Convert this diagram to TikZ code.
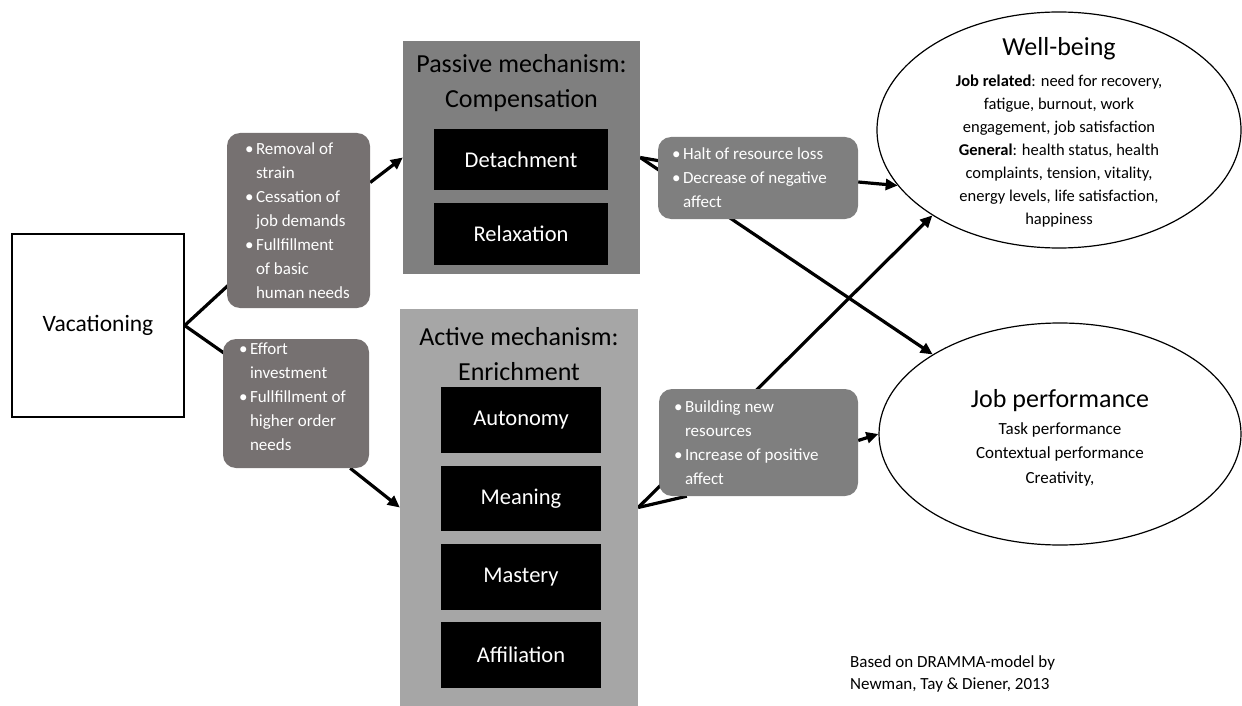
\documentclass[tikz,border=0pt]{standalone}
\usepackage{fontspec}
\setmainfont{Carlito}
\usetikzlibrary{arrows.meta,shapes.geometric,calc,backgrounds}
\definecolor{darkbox}{RGB}{118,113,113}
\definecolor{midbox}{RGB}{127,127,127}
\definecolor{lightbox}{RGB}{166,166,166}
\newcommand{\bu}{\makebox[11pt][l]{•}}
\newcommand{\ind}{\hspace*{11pt}}
\begin{document}
\begin{tikzpicture}[x=1pt,y=-1pt,
  conn/.style={line width=3.2pt, black},
  arr/.style={conn, -{Triangle[length=12pt,width=11pt]}},
  mechbox/.style={inner sep=0, draw=none},
  blk/.style={fill=black, text=white, font=\fontsize{22.5}{27}\selectfont, inner sep=0},
  bulbox/.style={rounded corners=13pt, inner sep=0},
  btxt/.style={text=white, align=left, font=\fontsize{17}{24}\selectfont, inner sep=0, anchor=west},
  ttl/.style={font=\fontsize{26}{35}\selectfont, align=center, inner sep=0},
  oval/.style={draw, ellipse, line width=1.2pt, inner sep=0},
]
\useasboundingbox (0,0) rectangle (1242,706);

% Vacationing
\node[draw, line width=1.3pt, minimum width=172, minimum height=183, inner sep=0,
      font=\fontsize{23.5}{28}\selectfont] (vac) at (98,325.5) {Vacationing};

% Passive mechanism
\node[mechbox, fill=midbox, minimum width=237, minimum height=233] (pas) at (521.5,157.5) {};
\node[ttl] (pasT) at (521.5,83) {Passive mechanism:\\Compensation};
\node[blk, minimum width=174, minimum height=61] (det) at (521,159.5) {Detachment};
\node[blk, minimum width=174, minimum height=62] (rel) at (521,234) {Relaxation};

% Active mechanism
\node[mechbox, fill=lightbox, minimum width=238, minimum height=397] (act) at (519,507.5) {};
\node[ttl] (actT) at (519,354.5) {Active mechanism:\\Enrichment};
\node[blk, minimum width=160, minimum height=66] (aut) at (521,420) {Autonomy};
\node[blk, minimum width=160, minimum height=65] (mea) at (521,498.5) {Meaning};
\node[blk, minimum width=160, minimum height=66] (mas) at (521,577) {Mastery};
\node[blk, minimum width=160, minimum height=66] (aff) at (521,655) {Affiliation};

% bullet boxes
\node[bulbox, fill=darkbox, minimum width=143, minimum height=175] (rem) at (298.5,220.5) {};
\node[btxt] (remT) at ($(rem.west)+(18,0)$) {\bu Removal of\\\ind strain\\\bu Cessation of\\\ind job demands\\\bu Fullfillment\\\ind of basic\\\ind human needs};

\node[bulbox, fill=darkbox, minimum width=146, minimum height=129] (eff) at (296,403.5) {};
\node[btxt] (effT) at ($(eff.west)+(16,-7)$) {\bu Effort\\\ind investment\\\bu Fullfillment of\\\ind higher order\\\ind needs};

\node[bulbox, fill=midbox, minimum width=200, minimum height=82] (halt) at (758,178) {};
\node[btxt] (haltT) at ($(halt.west)+(14,0)$) {\bu Halt of resource loss\\\bu Decrease of negative\\\ind affect};

\node[bulbox, fill=midbox, minimum width=199, minimum height=107] (bld) at (758.5,442.5) {};
\node[btxt] (bldT) at ($(bld.west)+(15,0)$) {\bu Building new\\\ind resources\\\bu Increase of positive\\\ind affect};

% outcomes
\node[oval, minimum width=364, minimum height=236] (wb) at (1059,130) {};
\node[inner sep=0, anchor=base, font=\fontsize{26}{30}\selectfont] (wbT) at (1059,56) {Well-being};
\node[inner sep=0, align=center, font=\fontsize{16.5}{23}\selectfont] (wbB) at (1059,151)
  {\textbf{Job related}: need for recovery,\\fatigue, burnout, work\\engagement, job satisfaction\\\textbf{General}: health status, health\\complaints, tension, vitality,\\energy levels, life satisfaction,\\happiness};

\node[oval, minimum width=362, minimum height=222] (jp) at (1060,434) {};
\node[inner sep=0, anchor=base, font=\fontsize{26}{30}\selectfont] (jpT) at (1060,407) {Job performance};
\node[inner sep=0, align=center, font=\fontsize{17}{24.5}\selectfont] (jpB) at (1060,454)
  {Task performance\\Contextual performance\\Creativity,};

% source note
\node[inner sep=0, align=left, anchor=west, font=\fontsize{17}{21.5}\selectfont] (note) at (850,674)
  {Based on DRAMMA-model by\\Newman, Tay \& Diener, 2013};

% connectors
\begin{scope}[on background layer]
  \draw[conn] (vac.east) -- (rem.center);
  \draw[conn] (vac.east) -- (eff.center);
  \draw[arr] ($(rem.east)+(0,-38)$) -- (pas.west);
  \draw[arr] ($(eff.south east)+(-19,0)$) -- (act.west);
  \draw[conn] (pas.east) -- (halt.center);
  \draw[arr] (pas.east) -- (jp.148);
  \draw[arr] ($(halt.east)+(0,4)$) -- (wb.199);
  \draw[conn] (act.east) -- ($(bld.south west)+(28,0)$);
  \draw[arr] (act.east) -- (wb.214);
  \draw[arr] ($(bld.east)+(0,-2)$) -- (jp.west);
\end{scope}
\end{tikzpicture}
\end{document}
